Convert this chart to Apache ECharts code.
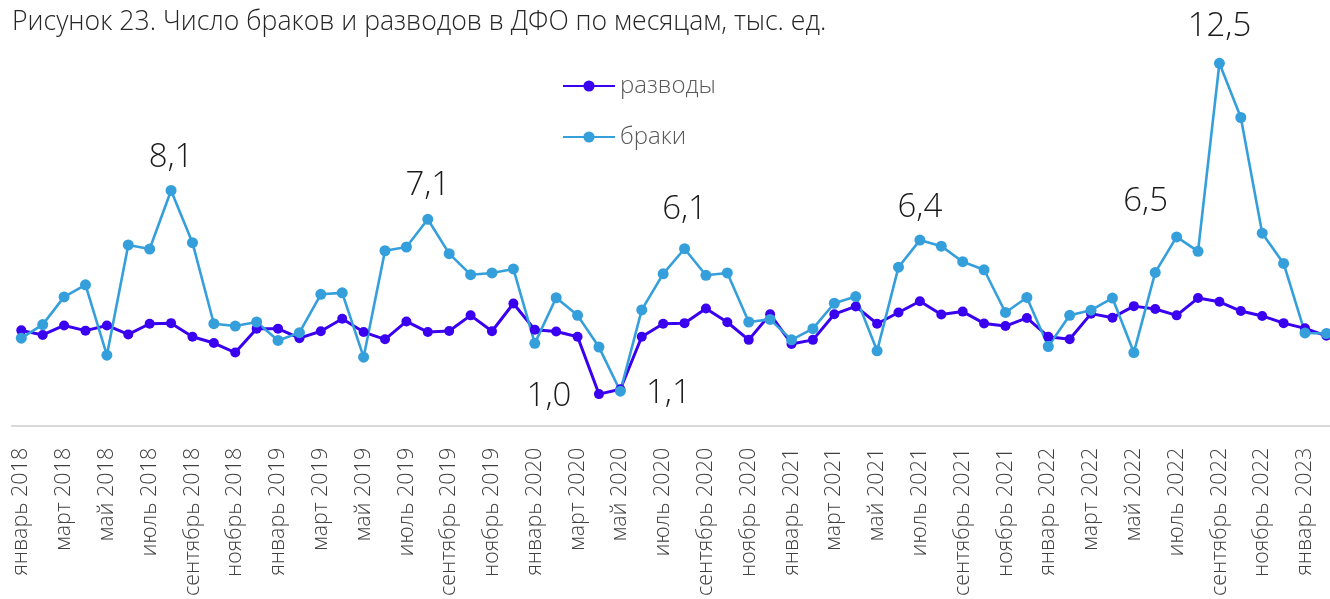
<!DOCTYPE html>
<html>
<head>
<meta charset="utf-8">
<script src="https://cdn.jsdelivr.net/npm/echarts@6/dist/echarts.min.js"></script>
<style>
  html, body { margin: 0; padding: 0; background: #fff; }
  #chart { width: 1330px; height: 599px; }
</style>
</head>
<body>
<div id="chart"></div>
<script>
// months jan 2018 .. feb 2023
var monthNames = ['январь', 'февраль', 'март', 'апрель', 'май', 'июнь', 'июль', 'август', 'сентябрь', 'октябрь', 'ноябрь', 'декабрь'];
var years = [2018, 2019, 2020, 2021, 2022, 2023];
var monthCount = 62;

// разводы, тыс.
var divorces = [
    3.24, 3.08, 3.41, 3.23, 3.41, 3.10, 3.47, 3.49, 3.02, 2.80, 2.47, 3.30,
    3.30, 2.97, 3.21, 3.64, 3.18, 2.93, 3.55, 3.18, 3.22, 3.76, 3.21, 4.17,
    3.26, 3.20, 3.02, 1.03, 1.20, 3.02, 3.47, 3.49, 4.00, 3.52, 2.91, 3.80,
    2.77, 2.91, 3.80, 4.07, 3.47, 3.86, 4.25, 3.79, 3.89, 3.48, 3.39, 3.67,
    3.02, 2.93, 3.82, 3.68, 4.08, 3.98, 3.76, 4.36, 4.23, 3.91, 3.74, 3.49,
    3.31, 3.05
];

// браки, тыс.
var marriages = [
    2.97, 3.44, 4.40, 4.82, 2.38, 6.20, 6.06, 8.09, 6.28, 3.47, 3.39, 3.53,
    2.89, 3.16, 4.49, 4.54, 2.31, 6.00, 6.13, 7.09, 5.90, 5.17, 5.23, 5.37,
    2.79, 4.37, 3.76, 2.66, 1.13, 3.95, 5.20, 6.07, 5.15, 5.23, 3.53, 3.62,
    2.91, 3.30, 4.18, 4.41, 2.53, 5.43, 6.37, 6.16, 5.62, 5.34, 3.86, 4.38,
    2.68, 3.76, 3.94, 4.36, 2.47, 5.25, 6.48, 5.98, 12.5, 10.62, 6.61, 5.56,
    3.15, 3.13
];

// annotated points: series, index, text, offset
var notes = [
    { s: 'm', i: 7, text: '8,1', off: [0, -33] },
    { s: 'm', i: 19, text: '7,1', off: [0, -34] },
    { s: 'd', i: 27, text: '1,0', off: [-50, 2] },
    { s: 'm', i: 28, text: '1,1', off: [48, 2] },
    { s: 'm', i: 31, text: '6,1', off: [0, -39] },
    { s: 'm', i: 42, text: '6,4', off: [0, -32] },
    { s: 'm', i: 54, text: '6,5', off: [-31, -35] },
    { s: 'm', i: 56, text: '12,5', off: [0, -37] }
];

var categories = [];
for (var k = 0; k < monthCount; k++) {
    categories.push(monthNames[k % 12] + ' ' + years[Math.floor(k / 12)]);
}

function withNotes(values, key) {
    return values.map(function (v, idx) {
        var n = notes.filter(function (x) { return x.s === key && x.i === idx; })[0];
        if (!n) return v;
        return {
            value: v,
            label: {
                show: true,
                position: 'inside',
                offset: n.off,
                formatter: n.text,
                fontFamily: 'Open Sans',
                fontWeight: 300,
                fontSize: 33,
                color: '#1a1a1a'
            }
        };
    });
}

var chart = echarts.init(document.getElementById('chart'));
chart.setOption({
    animation: false,
    title: {
        text: 'Рисунок 23. Число браков и разводов в ДФО по месяцам, тыс. ед.',
        left: 7,
        top: 4,
        textStyle: {
            fontFamily: 'Open Sans',
            fontWeight: 300,
            fontSize: 26.6,
            color: '#262626'
        }
    },
    legend: {
        orient: 'vertical',
        left: 562,
        top: 74,
        padding: 0,
        itemWidth: 52,
        itemHeight: 14,
        itemGap: 27,
        textStyle: {
            fontFamily: 'Open Sans',
            fontWeight: 300,
            fontSize: 24,
            lineHeight: 20,
            color: '#595959',
            padding: [0, 0, 0, 0]
        },
        data: ['разводы', 'браки']
    },
    // baseline runs a bit past the first and last points
    graphic: [{
        type: 'line',
        shape: { x1: 11, y1: 426, x2: 1330, y2: 426 },
        style: { stroke: '#d9d9d9', lineWidth: 2 },
        z: 1
    }],
    grid: {
        left: 21.3,
        right: 3.6,
        top: 20,
        height: 406
    },
    xAxis: {
        type: 'category',
        boundaryGap: false,
        data: categories,
        axisLine: { show: false },
        axisTick: { show: false },
        axisLabel: {
            interval: 1,
            rotate: 90,
            margin: 24,
            fontFamily: 'Open Sans',
            fontWeight: 300,
            fontSize: 21.5,
            color: '#404040'
        }
    },
    yAxis: {
        type: 'value',
        min: 0,
        max: 14,
        show: false,
        splitLine: { show: false }
    },
    series: [
        {
            name: 'разводы',
            type: 'line',
            data: withNotes(divorces, 'd'),
            symbol: 'circle',
            symbolSize: 10,
            itemStyle: { color: '#3a00f0' },
            lineStyle: { color: '#3a00f0', width: 3 }
        },
        {
            name: 'браки',
            type: 'line',
            data: withNotes(marriages, 'm'),
            symbol: 'circle',
            symbolSize: 11,
            itemStyle: { color: '#359fdb' },
            lineStyle: { color: '#359fdb', width: 2.6 }
        }
    ]
});
</script>
</body>
</html>
